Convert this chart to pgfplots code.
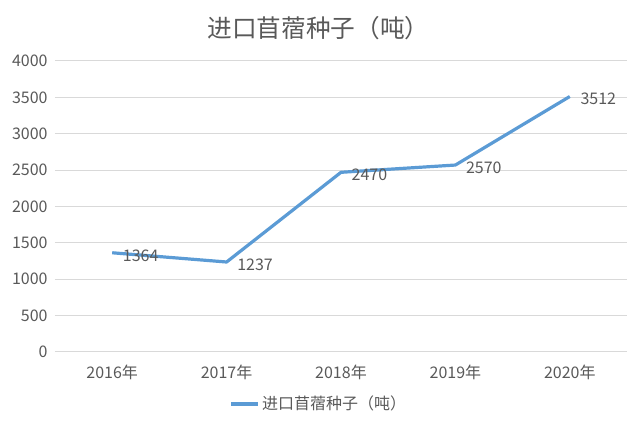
\documentclass[border=0pt]{standalone}
\usepackage{fontspec}
\setmainfont{Noto Sans CJK SC}
\usepackage{pgfplots}
\pgfplotsset{compat=1.18}
\definecolor{txt}{HTML}{595959}
\definecolor{grd}{HTML}{D9D9D9}
\definecolor{ln}{HTML}{5B9BD5}
\begin{document}
\begin{tikzpicture}
\path[use as bounding box] (0,0) rectangle (480pt,318.75pt);
\begin{axis}[
  at={(41.25pt,54.75pt)}, anchor=south west,
  scale only axis, width=429pt, height=218.25pt,
  xmin=-0.5, xmax=4.5, ymin=0, ymax=4000,
  xtick={0,1,2,3,4},
  xticklabels={2016年,2017年,2018年,2019年,2020年},
  ytick={0,500,...,4000},
  /pgf/number format/assume math mode=true,
  /pgf/number format/fixed,
  /pgf/number format/set thousands separator={},
  scaled y ticks=false,
  major tick length=0pt,
  axis line style={draw=none},
  ymajorgrids, grid style={grd, line width=0.75pt},
  tick label style={font=\fontsize{12}{14}\selectfont, text=txt},
  yticklabel style={xshift=-2pt},
  xticklabel style={yshift=-6pt},
  title={进口苜蓿种子（吨）},
  title style={at={(0.4605,1.087)}, anchor=center, font=\fontsize{18.5}{21}\selectfont, text=txt},
  legend style={at={(0.462,-0.179)}, anchor=center, draw=none, fill=none,
    font=\fontsize{12}{14}\selectfont, text=txt, inner sep=0pt},
  legend image code/.code={\draw[#1] (0pt,0pt) -- (20pt,0pt);},
  clip=false,
]
\addplot[ln, line width=2.4pt, line join=round,
  nodes near coords,
  nodes near coords style={anchor=west, xshift=3.5pt, yshift=-2pt, font=\fontsize{12}{14}\selectfont, text=txt},
] coordinates {(0,1364) (1,1237) (2,2470) (3,2570) (4,3512)};
\addlegendentry{进口苜蓿种子（吨）}
\end{axis}
\end{tikzpicture}
\end{document}
